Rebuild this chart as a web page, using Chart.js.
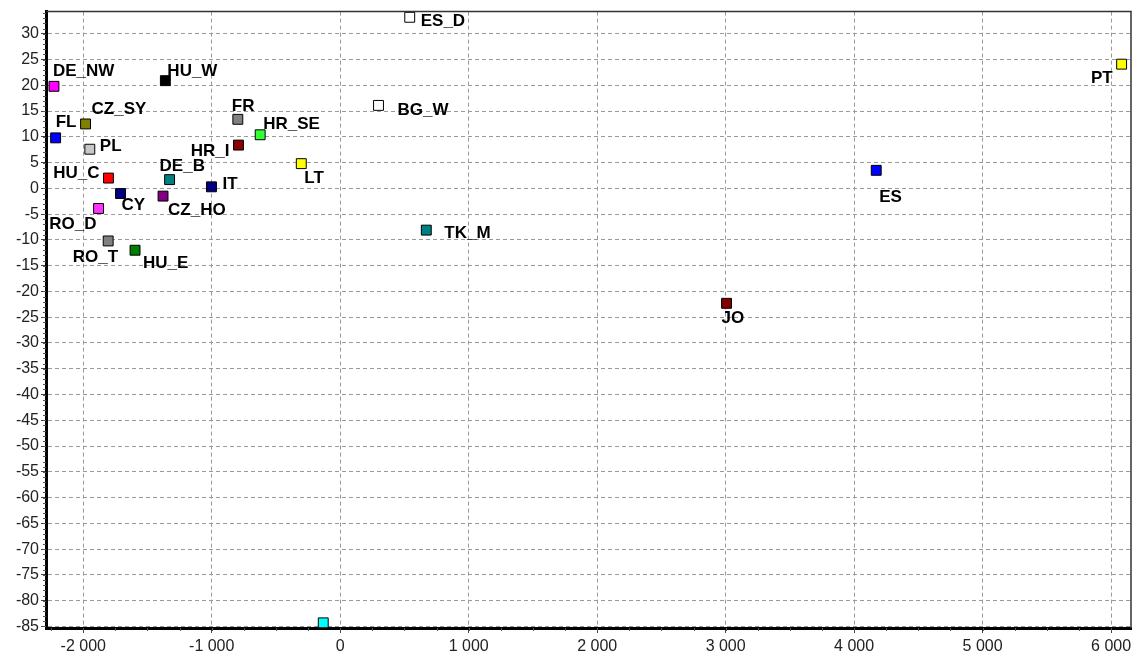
<!DOCTYPE html>
<html>
<head>
<meta charset="utf-8">
<script src="https://cdn.jsdelivr.net/npm/chart.js@4.4.0/dist/chart.umd.min.js"></script>
<style>
  html, body { margin: 0; padding: 0; background: #fff; }
  #wrap { width: 1139px; height: 661px; }
</style>
</head>
<body>
<div id="wrap"><canvas id="scatterChart"></canvas></div>
<script>
// site codes and their coordinates
const names = ["DE_NW","HU_W","CZ_SY","FL","PL","FR","HR_SE","HR_I","LT","HU_C","DE_B","IT","CY","CZ_HO","RO_D","RO_T","HU_E","ES_D","BG_W","TK_M","PT","ES","JO",""];
const xVals = [-2228,-1361,-1982,-2215,-1949,-797,-623,-792,-303,-1804,-1328,-1002,-1710,-1379,-1881,-1806,-1597,541,298,670,6082,4172,3007,-132];
const yVals = [19.8,20.9,12.5,9.8,7.6,13.4,10.4,8.4,4.8,2.0,1.7,0.3,-1.0,-1.5,-3.9,-10.2,-12.0,33.2,16.1,-8.1,24.1,3.5,-22.3,-84.3];

// marker fill colours
const colors = ["#ff00ff","#000000","#808000","#0000ff","#c8c8c8","#808080","#33ff33","#8b0000","#ffff00","#ff0000","#008080","#000080","#000080","#800080","#ff33ff","#808080","#008000","#ffffff","#ffffff","#008080","#ffff00","#0000ff","#800000","#00ffff"];

// tick values
const xTicks = [-2000,-1000,0,1000,2000,3000,4000,5000,6000];
const yTicks = [30,25,20,15,10,5,0,-5,-10,-15,-20,-25,-30,-35,-40,-45,-50,-55,-60,-65,-70,-75,-80,-85];

// label placement next to each marker: [align, dx, dy]
const labelPlace = {
    DE_NW: ["left", -1, -15], HU_W: ["left", 2, -9], CZ_SY: ["left", 6, -15],
    FL: ["left", 0, -16], PL: ["left", 10, -3], FR: ["left", -6, -13],
    HR_SE: ["left", 3, -10], HR_I: ["right", -9, 6], LT: ["left", 3, 15],
    HU_C: ["right", -9, -5], DE_B: ["left", -10, -13], IT: ["left", 11, -3],
    CY: ["left", 1, 12], CZ_HO: ["left", 5, 14], RO_D: ["right", -2, 16],
    RO_T: ["right", 10, 16], HU_E: ["left", 8, 13], ES_D: ["left", 11, 4],
    BG_W: ["left", 19, 5], TK_M: ["left", 18, 3], PT: ["right", -9, 14],
    ES: ["left", 3, 27], JO: ["left", -5, 15]
};

const points = xVals.map((x, i) => ({ x: x, y: yVals[i] }));

function spaced(v) {
    const s = String(Math.abs(v)).replace(/\B(?=(\d{3})+(?!\d))/g, " ");
    return (v < 0 ? "-" : "") + s;
}

// names beside the markers
const pointLabels = {
    id: "pointLabels",
    afterDatasetsDraw(chart) {
        const ctx = chart.ctx;
        const meta = chart.getDatasetMeta(0);
        ctx.save();
        ctx.font = "bold 17px 'Liberation Sans', Arial, sans-serif";
        ctx.fillStyle = "#000";
        ctx.textBaseline = "middle";
        meta.data.forEach((pt, i) => {
            const p = labelPlace[names[i]];
            if (!p) return;
            ctx.textAlign = p[0];
            ctx.fillText(names[i], pt.x + p[1], pt.y + p[2]);
        });
        ctx.restore();
    }
};

// thin top/right frame and minor ticks on the axes
const frame = {
    id: "frame",
    afterDraw(chart) {
        const ctx = chart.ctx;
        const a = chart.chartArea;
        const xs = chart.scales.x, ys = chart.scales.y;
        ctx.save();
        ctx.strokeStyle = "#333";
        ctx.lineWidth = 1.5;
        ctx.beginPath();
        ctx.moveTo(a.left, a.top);
        ctx.lineTo(a.right, a.top);
        ctx.lineTo(a.right, a.bottom);
        ctx.stroke();

        ctx.strokeStyle = "#555";
        ctx.lineWidth = 1;
        ctx.beginPath();
        for (let v = -2250; v <= 6150; v += 250) {
            const px = Math.round(xs.getPixelForValue(v)) + 0.5;
            ctx.moveTo(px, a.bottom);
            ctx.lineTo(px, a.bottom + 3);
        }
        for (let v = -85; v <= 34; v += 1) {
            const py = Math.round(ys.getPixelForValue(v)) + 0.5;
            ctx.moveTo(a.left - 3, py);
            ctx.lineTo(a.left, py);
        }
        ctx.stroke();
        ctx.restore();
    }
};

document.addEventListener("DOMContentLoaded", function () {

    const canvas = document.getElementById("scatterChart");

    new Chart(canvas, {
        type: "scatter",
        data: {
            datasets: [{
                data: points,
                backgroundColor: colors,
                borderColor: "#000",
                borderWidth: 1,
                pointStyle: "rect",
                pointRadius: 7,
                pointHoverRadius: 7,
                clip: false
            }]
        },
        options: {
            responsive: true,
            maintainAspectRatio: false,
            animation: false,
            layout: { padding: { top: 10, right: 7, left: 0, bottom: 0 } },
            plugins: {
                legend: { display: false },
                tooltip: { enabled: false }
            },
            scales: {
                x: {
                    type: "linear",
                    min: -2290,
                    max: 6155,
                    afterBuildTicks(scale) { scale.ticks = xTicks.map(v => ({ value: v })); },
                    afterFit(scale) { scale.height = 33; },
                    border: { display: true, color: "#000", width: 3, dash: [4, 3] },
                    grid: { color: "#9a9a9a", lineWidth: 1, tickColor: "#444", tickLength: 5 },
                    ticks: {
                        autoSkip: false,
                        maxRotation: 0,
                        padding: 4,
                        color: "#222",
                        font: { family: "'Liberation Sans', Arial, sans-serif", size: 16 },
                        callback: (v) => spaced(v)
                    }
                },
                y: {
                    type: "linear",
                    min: -85.3,
                    max: 34.3,
                    afterBuildTicks(scale) { scale.ticks = yTicks.map(v => ({ value: v })); },
                    afterFit(scale) { scale.width = 46; },
                    border: { display: true, color: "#000", width: 3, dash: [4, 3] },
                    grid: { color: "#9a9a9a", lineWidth: 1, tickColor: "#444", tickLength: 5 },
                    ticks: {
                        autoSkip: false,
                        padding: 2,
                        color: "#222",
                        font: { family: "'Liberation Sans', Arial, sans-serif", size: 16 }
                    }
                }
            }
        },
        plugins: [pointLabels, frame]
    });

});
</script>
</body>
</html>
